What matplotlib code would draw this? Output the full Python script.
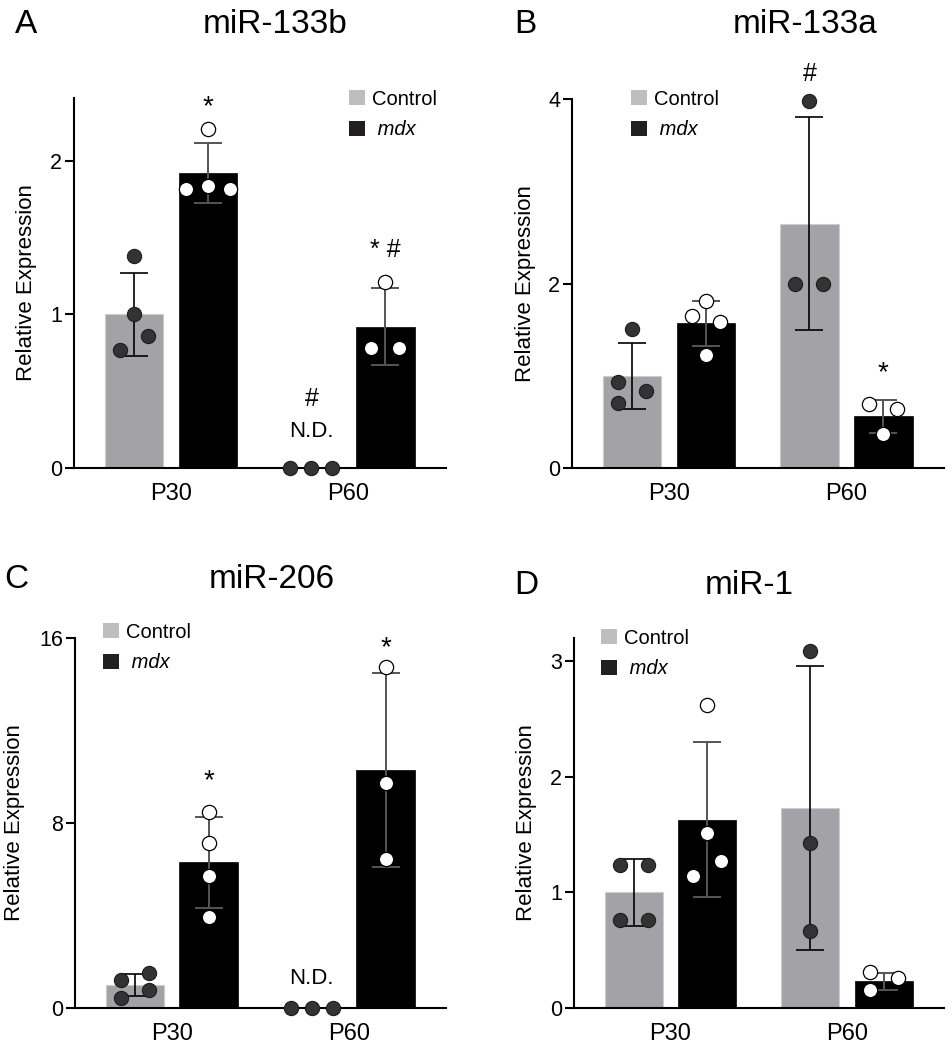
import numpy as np
import matplotlib
matplotlib.use("Agg")
import matplotlib.pyplot as plt
from matplotlib.patches import Patch

plt.rcParams['font.family'] = ['Liberation Sans', 'DejaVu Sans']

# ---------------- data ----------------
groups = ['P30', 'P60']
series_names = ['Control', 'mdx']
nan = np.nan

# A: miR-133b
a_title = 'miR-133b'
a_ctrl_mean = [1.00, 0.0]
a_ctrl_sd = [0.27, nan]
a_mdx_mean = [1.92, 0.92]
a_mdx_sd = [0.195, 0.25]
a_ctrl_pts = [[1.38, 1.00, 0.86, 0.77], [0.0, 0.0, 0.0]]
a_mdx_pts = [[2.21, 1.84, 1.82, 1.82], [1.21, 0.78, 0.78]]
a_yticks = [0, 1, 2]

# B: miR-133a
b_title = 'miR-133a'
b_ctrl_mean = [1.00, 2.65]
b_ctrl_sd = [0.36, 1.15]
b_mdx_mean = [1.57, 0.56]
b_mdx_sd = [0.245, 0.18]
b_ctrl_pts = [[1.51, 0.93, 0.83, 0.71], [3.98, 1.99, 2.00]]
b_mdx_pts = [[1.81, 1.65, 1.58, 1.23], [0.69, 0.64, 0.37]]
b_yticks = [0, 2, 4]

# C: miR-206
c_title = 'miR-206'
c_ctrl_mean = [0.99, 0.0]
c_ctrl_sd = [0.48, nan]
c_mdx_mean = [6.30, 10.29]
c_mdx_sd = [1.96, 4.19]
c_ctrl_pts = [[1.51, 1.22, 0.78, 0.44], [0.0, 0.0, 0.0]]
c_mdx_pts = [[8.46, 7.14, 5.72, 3.92], [14.73, 9.71, 6.44]]
c_yticks = [0, 8, 16]

# D: miR-1
d_title = 'miR-1'
d_ctrl_mean = [1.00, 1.73]
d_ctrl_sd = [0.29, 1.23]
d_mdx_mean = [1.63, 0.23]
d_mdx_sd = [0.67, 0.07]
d_ctrl_pts = [[1.24, 1.24, 0.76, 0.76], [3.09, 1.43, 0.67]]
d_mdx_pts = [[2.62, 1.51, 1.27, 1.14], [0.31, 0.26, 0.155]]
d_yticks = [0, 1, 2, 3]

# significance marks: (text, series index, group index, value)
a_marks = [('*', 1, 0, 2.41), ('* #', 1, 1, 1.42), ('#', 0, 1, 0.45), ('N.D.', 0, 1, 0.24)]
b_marks = [('#', 0, 1, 4.27), ('*', 1, 1, 1.12)]
c_marks = [('*', 1, 0, 10.2), ('*', 1, 1, 15.95), ('N.D.', 0, 1, 1.27)]
d_marks = []

# ---------------- layout (not data) ----------------
# horizontal scatter offsets of the dots, in dot diameters
a_ctrl_off = [[0, 0, 1, -1], [-1.5, 0, 1.5]]
a_mdx_off = [[0, 0, -1.55, 1.55], [0, -1, 1]]
b_ctrl_off = [[0, -1, 1, -1], [0, -1, 1]]
b_mdx_off = [[0, -1, 1, 0], [-1, 1, 0]]
c_ctrl_off = [[1, -1, 1, -1], [-1.5, 0, 1.5]]
c_mdx_off = [[0, 0, 0, 0], [0, 0, 0]]
d_ctrl_off = [[-1, 1, -1, 1], [0, 0, 0]]
d_mdx_off = [[0, 0, 1, -1], [-1, 1, -1]]

W, H = 952, 1050
fig = plt.figure(figsize=(W / 100, H / 100), dpi=100)


def rect(l, r, t, b):
    return [l / W, (H - b) / H, (r - l) / W, (b - t) / H]


panels = [
    dict(letter='A', title=a_title, rect=rect(74, 446, 98, 468), ytop=2.41, yticks=a_yticks,
         cm=a_ctrl_mean, cs=a_ctrl_sd, mm=a_mdx_mean, ms=a_mdx_sd, cp=a_ctrl_pts, mp=a_mdx_pts,
         co=a_ctrl_off, mo=a_mdx_off, marks=a_marks,
         title_xy=(275, 33), letter_xy=(15, 33), leg=(349, 99), ylab_x=-0.10),
    dict(letter='B', title=b_title, rect=rect(572, 944, 99, 468), ytop=4.0, yticks=b_yticks,
         cm=b_ctrl_mean, cs=b_ctrl_sd, mm=b_mdx_mean, ms=b_mdx_sd, cp=b_ctrl_pts, mp=b_mdx_pts,
         co=b_ctrl_off, mo=b_mdx_off, marks=b_marks,
         title_xy=(805, 33), letter_xy=(514, 33), leg=(631, 99), ylab_x=-0.097),
    dict(letter='C', title=c_title, rect=rect(75, 446, 638, 1008), ytop=16.0, yticks=c_yticks,
         cm=c_ctrl_mean, cs=c_ctrl_sd, mm=c_mdx_mean, ms=c_mdx_sd, cp=c_ctrl_pts, mp=c_mdx_pts,
         co=c_ctrl_off, mo=c_mdx_off, marks=c_marks,
         title_xy=(272, 588), letter_xy=(4, 588), leg=(103, 632), ylab_x=-0.134),
    dict(letter='D', title=d_title, rect=rect(574, 944, 638, 1008), ytop=3.2, yticks=d_yticks,
         cm=d_ctrl_mean, cs=d_ctrl_sd, mm=d_mdx_mean, ms=d_mdx_sd, cp=d_ctrl_pts, mp=d_mdx_pts,
         co=d_ctrl_off, mo=d_mdx_off, marks=d_marks,
         title_xy=(749, 594), letter_xy=(514, 594), leg=(601, 638), ylab_x=-0.10),
]

GROUP_STEP = 2.4
BAR_W = 0.79
DOT = 0.19  # dot diameter in x data units
CTRL_BAR = '#a3a3a7'
CTRL_EDGE = '#cdcdcf'
CTRL_DOT = '#333333'
LEG_CTRL = '#bebebe'
LEG_MDX = '#231f20'

for p in panels:
    ax = fig.add_axes(p['rect'])
    xc = np.arange(len(groups)) * GROUP_STEP
    xm = xc + 1.0

    ax.bar(xc, p['cm'], width=BAR_W, color=CTRL_BAR, edgecolor=CTRL_EDGE, linewidth=0.8, zorder=1)
    ax.bar(xm, p['mm'], width=BAR_W, color='black', edgecolor='black', linewidth=0.5, zorder=1)

    ax.errorbar(xc, p['cm'], yerr=p['cs'], fmt='none', ecolor='black', elinewidth=1.2,
                capsize=10.4, capthick=1.2, zorder=2)
    ax.errorbar(xm, p['mm'], yerr=p['ms'], fmt='none', ecolor='#555555', elinewidth=1.4,
                capsize=10.4, capthick=1.4, zorder=2)

    for gi in range(len(groups)):
        xs = xc[gi] + np.array(p['co'][gi]) * DOT
        ax.scatter(xs, p['cp'][gi], s=105, facecolor=CTRL_DOT, edgecolor='#1e1e1e',
                   linewidths=0.8, zorder=4, clip_on=False)
        xs = xm[gi] + np.array(p['mo'][gi]) * DOT
        ax.scatter(xs, p['mp'][gi], s=105, facecolor='white', edgecolor='black',
                   linewidths=0.9, zorder=4, clip_on=False)

    for txt, si, gi, yv in p['marks']:
        xpos = (xc if si == 0 else xm)[gi]
        if txt == 'N.D.':
            ax.text(xpos, yv, txt, ha='center', va='center', fontsize=16)
        elif txt == '*':
            ax.annotate(txt, xy=(xpos, yv), xytext=(0, -11.5), textcoords='offset points',
                        ha='center', va='baseline', fontsize=20, annotation_clip=False)
        else:
            ax.text(xpos, yv, txt, ha='center', va='center', fontsize=18, clip_on=False)

    ax.set_xlim(-0.81, 4.22)
    ax.set_ylim(0, p['ytop'])
    ax.set_yticks(p['yticks'])
    ax.set_xticks(xc + 0.5)
    ax.set_xticklabels(groups)
    for s in ['top', 'right']:
        ax.spines[s].set_visible(False)
    for s in ['left', 'bottom']:
        ax.spines[s].set_linewidth(1.5)
    ax.tick_params(axis='y', length=6.5, width=1.5, labelsize=15.5, pad=2)
    ax.tick_params(axis='x', length=0, labelsize=17, pad=11)
    ax.set_ylabel('Relative Expression', fontsize=16)
    ax.yaxis.set_label_coords(p['ylab_x'], 0.5)

    # legend
    lx, ly = p['leg']
    handles = [Patch(facecolor=LEG_CTRL, edgecolor='none'), Patch(facecolor=LEG_MDX, edgecolor='none')]
    leg = ax.legend(handles, ['Control', ' mdx'], loc='upper left',
                    bbox_to_anchor=(lx / W, (H - (ly - 9)) / H), bbox_transform=fig.transFigure,
                    frameon=False, borderpad=0, borderaxespad=0, handlelength=0.77,
                    handleheight=0.77, handletextpad=0.36, labelspacing=0.55, fontsize=14.5)
    leg.get_texts()[1].set_style('italic')

    fig.text(p['title_xy'][0] / W, 1 - p['title_xy'][1] / H, p['title'], ha='center',
             va='baseline', fontsize=24)
    fig.text(p['letter_xy'][0] / W, 1 - p['letter_xy'][1] / H, p['letter'], ha='left',
             va='baseline', fontsize=24)

fig.savefig('out.png', dpi=100)
